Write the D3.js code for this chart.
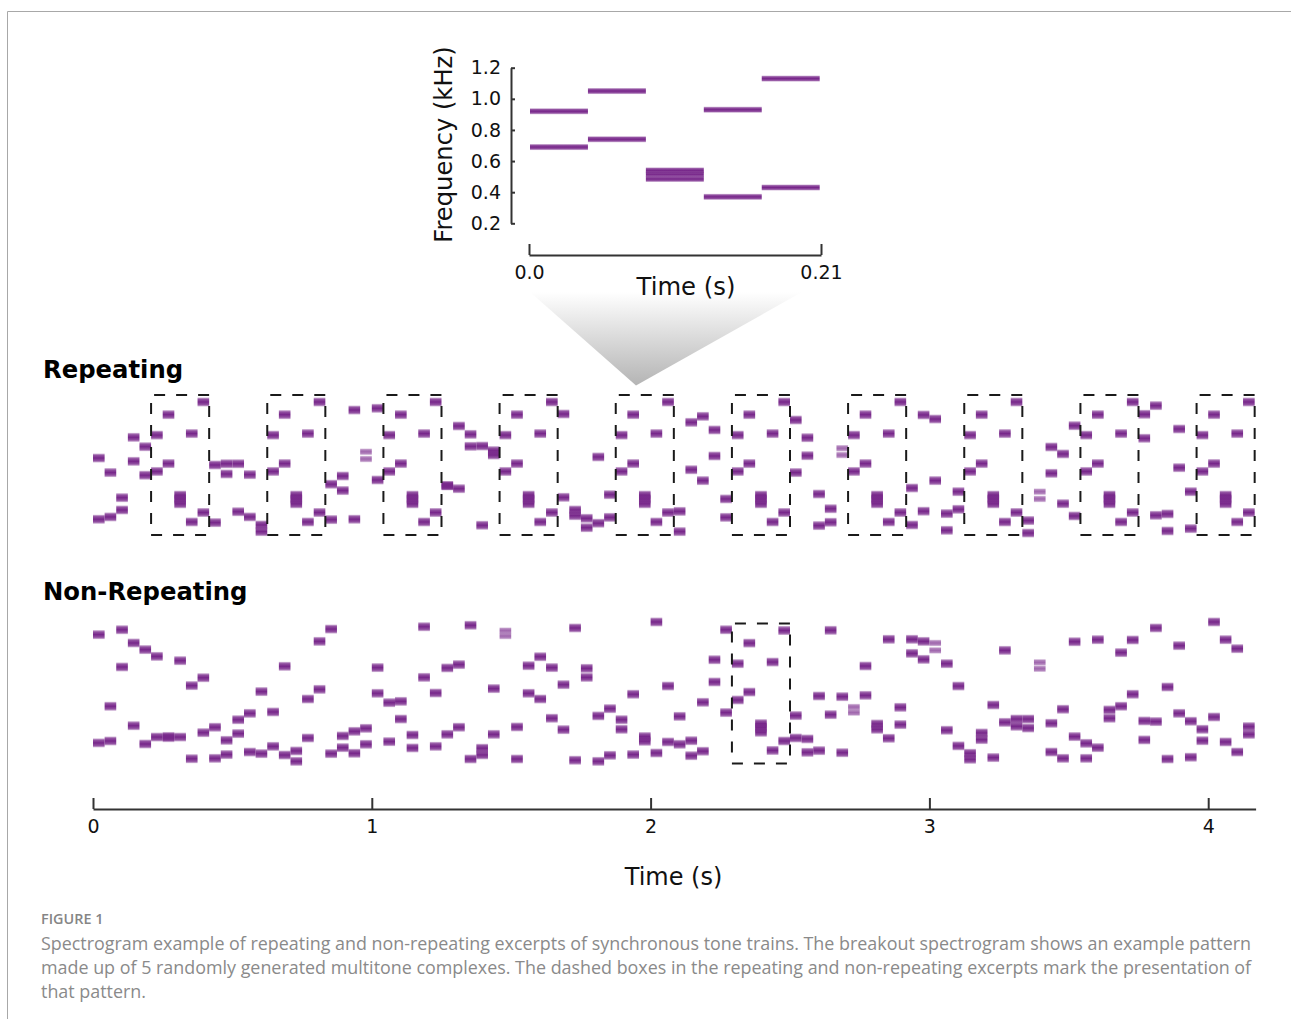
<!DOCTYPE html>
<html>
<head>
<meta charset="utf-8">
<title>Figure 1</title>
<script src="https://cdn.jsdelivr.net/npm/d3@7"></script>
<style>
  body { margin: 0; background: #fff; }
  svg { display: block; }
  text { font-family: "DejaVu Sans", sans-serif; fill: #111; }
  .caption { font-family: "Open Sans", sans-serif; fill: #8a8a8a; font-size: 17.9px; }
  .caption-head { font-family: "Open Sans", sans-serif; fill: #858585; font-size: 14.4px; font-weight: 600; }
  .axis path, .axis line { stroke: #333; stroke-width: 2; }
  .axis text { font-size: 19px; fill: #111; }
</style>
</head>
<body>
<div id="figure"></div>
<script>
const width = 1291;
const height = 1019;

// Pattern shown in the breakout: one list of kHz values per 1/24 s slot
const patternFreqs = [
  [0.92, 0.69],
  [1.05, 0.74],
  [0.54, 0.515, 0.485],
  [0.93, 0.37],
  [1.13, 0.43]
];
const secondsPerSlot = 1 / 24;
const breakoutTicks = [0.2, 0.4, 0.6, 0.8, 1.0, 1.2];
const timeTicks = [0, 1, 2, 3, 4];
const totalTime = 4.17;

// Slots where the pattern starts
const repeatingStarts = [5, 15, 25, 35, 45, 55, 65, 75, 85, 95];
const nonRepeatingStarts = [55];
const boxFreqRange = [0.288, 1.174];

// Filler tones: [slot, kHz, kHz]
const repeatingFill = [
  [0, .775, .387], [1, .683, .402], [2, .524, .446], [3, .906, .754], [4, .847, .666],
  [10, .731, .366], [11, .739, .674], [12, .739, .435], [13, .670, .402], [14, .351, .309],
  [20, .609, .385], [21, .661, .569], [22, 1.079, .387], [23, .815, .769], [24, 1.09, .636],
  [30, .600, .600], [31, .978, .581], [32, .925, .849], [33, .851, .349], [34, .822, .794],
  [40, 1.054, .526], [41, .446, .410], [42, .393, .334], [43, .782, .362], [44, .543, .399],
  [50, .437, .309], [51, 1.001, .701], [52, 1.039, .632], [53, .953, .788], [54, .516, .399],
  [60, 1.016, .683], [61, .904, .790], [62, .547, .347], [63, .454, .368], [64, .837, .794],
  [70, .585, .351], [71, 1.048, .438], [72, 1.022, .632], [73, .423, .317], [74, .562, .450],
  [80, .379, .300], [81, .562, .516], [82, .845, .678], [83, .801, .486], [84, .980, .408],
  [90, 1.052, .900], [91, 1.107, .412], [92, .421, .313], [93, .959, .714], [94, .562, .328]
];
const nonRepeatingFill = [
  [0, 1.104, .418], [1, .650, .430], [2, 1.135, .899], [3, 1.051, .527], [4, 1.009, .411],
  [5, .966, .455], [6, .459, .451], [7, .939, .455], [8, .781, .318], [9, .831, .483],
  [10, .517, .320], [11, .434, .344], [12, .565, .477], [13, .605, .360], [14, .743, .350],
  [15, .614, .396], [16, .903, .341], [17, .367, .301], [18, .696, .449], [19, 1.061, .757],
  [20, 1.139, .350], [21, .462, .388], [22, .491, .352], [23, .510, .409], [24, .895, .732],
  [25, .673, .426], [26, .681, .569], [27, .468, .386], [28, 1.154, .833], [29, .734, .396],
  [30, .893, .472], [31, .914, .517], [32, 1.163, .316], [33, .384, .342], [34, .762, .472],
  [35, 1.129, 1.095], [36, .519, .316], [37, .907, .732], [38, .964, .696], [39, .895, .574],
  [40, .787, .502], [41, 1.146, .308], [42, .890, .833], [43, .589, .301], [44, .635, .339],
  [45, .565, .504], [46, .726, .344], [47, .458, .428], [48, 1.184, .354], [49, .778, .424],
  [50, .586, .409], [51, .432, .337], [52, .675, .365], [53, .945, .804], [54, 1.135, .610],
  [60, .591, .449], [61, .443, .358], [62, .715, .369], [63, 1.131, .597], [64, .711, .356],
  [65, .645, .610], [66, .905, .719], [67, .538, .504], [68, 1.074, .447], [69, .643, .534],
  [70, 1.074, .985], [71, 1.061, .947], [72, 1.051, 1.004], [73, .920, .498], [74, .778, .399],
  [75, .352, .314], [76, .481, .439], [77, .658, .325], [78, 1.004, .548], [79, .569, .523],
  [80, .569, .512], [81, .928, .888], [82, .542, .360], [83, .631, .320], [84, 1.059, .458],
  [85, .415, .320], [86, 1.072, .388], [87, .627, .574], [88, .990, .650], [89, 1.070, .726],
  [90, .557, .437], [91, 1.146, .553], [92, .772, .316], [93, 1.034, .605], [94, .555, .327],
  [95, .504, .432], [96, 1.184, .582], [97, 1.072, .424], [98, 1.015, .360], [99, .521, .472]
];

// Close pairs that beat against each other and print paler and thinner
const repeatingFaint = [23, 64, 81];
const nonRepeatingFaint = [35, 65, 72, 81];

const captionLines = [
  "Spectrogram example of repeating and non-repeating excerpts of synchronous tone trains. The breakout spectrogram shows an example pattern",
  "made up of 5 randomly generated multitone complexes. The dashed boxes in the repeating and non-repeating excerpts mark the presentation of",
  "that pattern."
];

const svg = d3.select("#figure").append("svg")
  .attr("width", width)
  .attr("height", height);

const defs = svg.append("defs");

// Tones are blurred in frequency, so fade each one out at top and bottom
const toneFill = defs.append("linearGradient")
  .attr("id", "tone")
  .attr("x1", 0).attr("x2", 0).attr("y1", 0).attr("y2", 1);
[[0, 0.3], [0.2, 0.8], [0.5, 1], [0.8, 0.8], [1, 0.3]].forEach(([o, a]) => {
  toneFill.append("stop")
    .attr("offset", o)
    .attr("stop-color", "#77268a")
    .attr("stop-opacity", a);
});

const wedgeFill = defs.append("linearGradient")
  .attr("id", "wedge")
  .attr("x1", 0).attr("x2", 0).attr("y1", 0).attr("y2", 1);
wedgeFill.append("stop").attr("offset", 0).attr("stop-color", "#ffffff");
wedgeFill.append("stop").attr("offset", 1).attr("stop-color", "#b4b4b4");

// Figure frame
svg.append("path")
  .attr("d", "M7.5,1019V11.5H1291")
  .attr("fill", "none")
  .attr("stroke", "#a8a8a8");

/************************************************
 * Breakout wedge goes under the axis text      *
 ************************************************/
svg.append("path")
  .attr("d", "M530,292L802,292L636,385.5Z")
  .attr("fill", "url(#wedge)");

/************************************************
 * Breakout spectrogram                         *
 ************************************************/
const breakoutX = d3.scaleLinear().domain([0, 0.21]).range([529, 821]);
const breakoutY = d3.scaleLinear().domain([0.2, 1.2]).range([223.3, 67.7]);

const breakoutTones = [];
patternFreqs.forEach((freqs, i) => {
  freqs.forEach(f => breakoutTones.push({ t: i * secondsPerSlot, f }));
});

svg.append("g").selectAll("rect")
  .data(breakoutTones)
  .enter()
  .append("rect")
  .attr("x", d => breakoutX(d.t) + 1)
  .attr("width", breakoutX(secondsPerSlot) - breakoutX(0))
  .attr("y", d => breakoutY(d.f) - 3)
  .attr("height", 6)
  .attr("fill", "url(#tone)");

svg.append("g")
  .attr("class", "axis")
  .attr("transform", "translate(511,0)")
  .call(d3.axisLeft(breakoutY)
    .tickValues(breakoutTicks)
    .tickFormat(d3.format(".1f"))
    .tickSizeInner(-4)
    .tickSizeOuter(0)
    .tickPadding(10));

svg.append("g")
  .attr("class", "axis")
  .attr("transform", "translate(0,255)")
  .call(d3.axisBottom(breakoutX)
    .tickValues([0, 0.21])
    .tickFormat(d => (d === 0 ? "0.0" : "0.21"))
    .tickSizeInner(-11)
    .tickSizeOuter(0)
    .tickPadding(11));

svg.append("text")
  .attr("transform", "translate(452,144.5) rotate(-90)")
  .attr("text-anchor", "middle")
  .style("font-size", "24.2px")
  .text("Frequency (kHz)");

svg.append("text")
  .attr("x", 686)
  .attr("y", 295)
  .attr("text-anchor", "middle")
  .style("font-size", "24.3px")
  .text("Time (s)");

/************************************************
 * Long excerpts                                *
 ************************************************/
const timeX = d3.scaleLinear().domain([0, totalTime]).range([93, 1255.6]);
const repeatingY = d3.scaleLinear().domain([0.2, 1.2]).range([548.8, 390.95]);
const nonRepeatingY = d3.scaleLinear().domain([0.2, 1.2]).range([777.3, 619.45]);

function drawExcerpt(y, fill, starts, faint) {
  const tones = [];
  fill.forEach(([slot, ...freqs]) => {
    freqs.forEach(f => tones.push({ slot, f, faint: faint.includes(slot) }));
  });
  starts.forEach(start => {
    patternFreqs.forEach((freqs, i) => {
      freqs.forEach(f => tones.push({ slot: start + i, f, faint: false }));
    });
  });

  const g = svg.append("g");
  const toneHeight = d => (d.faint ? 6.5 : 9);

  g.selectAll("rect")
    .data(tones)
    .enter()
    .append("rect")
    .attr("x", d => timeX(d.slot * secondsPerSlot))
    .attr("width", timeX(secondsPerSlot) - timeX(0))
    .attr("y", d => y(d.f) - toneHeight(d) / 2)
    .attr("height", toneHeight)
    .attr("fill", "url(#tone)")
    .attr("opacity", d => (d.faint ? 0.7 : 1));

  // Dashed boxes start bottom left and run counter-clockwise
  g.selectAll("path")
    .data(starts)
    .enter()
    .append("path")
    .attr("d", start => {
      const x0 = timeX(start * secondsPerSlot);
      const x1 = timeX((start + patternFreqs.length) * secondsPerSlot);
      const p = d3.path();
      p.moveTo(x0, y(boxFreqRange[0]));
      p.lineTo(x1, y(boxFreqRange[0]));
      p.lineTo(x1, y(boxFreqRange[1]));
      p.lineTo(x0, y(boxFreqRange[1]));
      p.closePath();
      return p.toString();
    })
    .attr("fill", "none")
    .attr("stroke", "#1a1a1a")
    .attr("stroke-width", 2)
    .attr("stroke-dasharray", "11,11");
}

drawExcerpt(repeatingY, repeatingFill, repeatingStarts, repeatingFaint);
drawExcerpt(nonRepeatingY, nonRepeatingFill, nonRepeatingStarts, nonRepeatingFaint);

svg.append("text")
  .attr("x", 43)
  .attr("y", 378)
  .style("font-size", "24.3px")
  .style("font-weight", "bold")
  .style("fill", "#000")
  .text("Repeating");

svg.append("text")
  .attr("x", 43)
  .attr("y", 600)
  .style("font-size", "24.3px")
  .style("font-weight", "bold")
  .style("fill", "#000")
  .text("Non-Repeating");

svg.append("g")
  .attr("class", "axis")
  .attr("transform", "translate(0,809)")
  .call(d3.axisBottom(timeX)
    .tickValues(timeTicks)
    .tickFormat(d3.format("d"))
    .tickSizeInner(-11)
    .tickSizeOuter(0)
    .tickPadding(11));

svg.append("text")
  .attr("x", 673.5)
  .attr("y", 885)
  .attr("text-anchor", "middle")
  .style("font-size", "24px")
  .text("Time (s)");

/************************************************
 * Caption                                      *
 ************************************************/
svg.append("text")
  .attr("class", "caption-head")
  .attr("x", 41)
  .attr("y", 924)
  .text("FIGURE 1");

svg.append("g").selectAll("text")
  .data(captionLines)
  .enter()
  .append("text")
  .attr("class", "caption")
  .attr("x", 41)
  .attr("y", (d, i) => 949.5 + i * 24)
  .text(d => d);
</script>
</body>
</html>
